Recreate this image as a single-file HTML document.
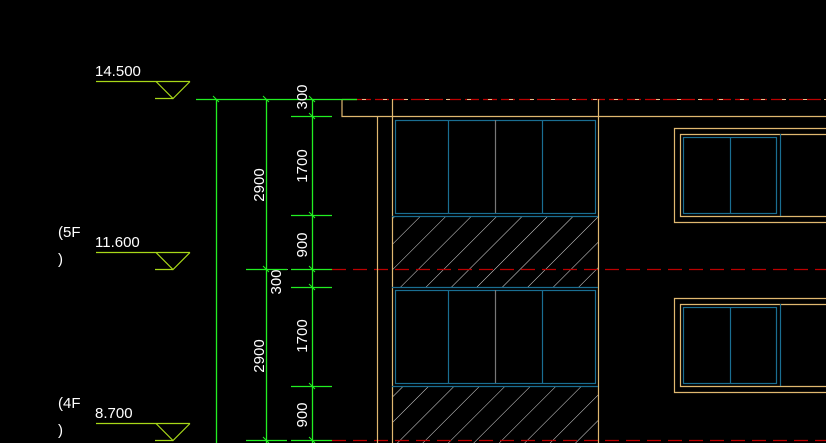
<!DOCTYPE html>
<html><head><meta charset="utf-8"><style>
html,body{margin:0;padding:0;background:#000;width:826px;height:443px;overflow:hidden}
svg{display:block}
text{font-family:"Liberation Sans",sans-serif;fill:#fff;font-size:15px}
</style></head><body>
<svg width="826" height="443" viewBox="0 0 826 443" xmlns="http://www.w3.org/2000/svg">
<defs>
<pattern id="h" patternUnits="userSpaceOnUse" width="18" height="18" patternTransform="rotate(45)">
<line x1="0" y1="0" x2="0" y2="18" stroke="#ddd" stroke-width="1"/>
</pattern>
</defs>
<!-- hatch -->
<rect x="392" y="216" width="206" height="71" fill="url(#h)"/>
<rect x="392" y="386" width="206" height="57" fill="url(#h)"/>
<!-- red dashed -->
<g stroke="#b00" stroke-width="1.2" stroke-dasharray="14 7" fill="none">
<line x1="357" y1="99.5" x2="826" y2="99.5" stroke-dasharray="14 4"/>
<line x1="332" y1="269.5" x2="826" y2="269.5"/>
<line x1="332" y1="440.5" x2="826" y2="440.5"/>
</g>
<line x1="246" y1="269.5" x2="332" y2="269.5" stroke="#888" stroke-dasharray="10 6"/>
<g stroke="#e8c088" stroke-width="1" stroke-dasharray="4 17" fill="none"><line x1="362" y1="99.5" x2="826" y2="99.5"/></g>
<!-- tan structure -->
<g stroke="#e0b870" stroke-width="1.2" fill="none">
<polyline points="342,99 342,116.5 826,116.5"/>
<line x1="342" y1="99.5" x2="357" y2="99.5"/>
<line x1="377.5" y1="116" x2="377.5" y2="443"/>
<line x1="392.5" y1="99" x2="392.5" y2="443"/>
<line x1="598.5" y1="99" x2="598.5" y2="443"/>
<polyline points="826,128.5 674.5,128.5 674.5,222.5 826,222.5"/>
<polyline points="826,134.5 680.5,134.5 680.5,216.5 826,216.5"/>
<polyline points="826,298.5 674.5,298.5 674.5,392.5 826,392.5"/>
<polyline points="826,304.5 680.5,304.5 680.5,386.5 826,386.5"/>
</g>
<!-- blue windows -->
<g stroke="#1a6e92" stroke-width="1.2" fill="none">
<rect x="395.5" y="120.5" width="200" height="93"/>
<line x1="448.5" y1="120" x2="448.5" y2="213"/>
<line x1="542.5" y1="120" x2="542.5" y2="213"/>
<line x1="392" y1="216.5" x2="598" y2="216.5"/>
<line x1="392" y1="287.5" x2="598" y2="287.5"/>
<rect x="395.5" y="290.5" width="200" height="93"/>
<line x1="448.5" y1="290" x2="448.5" y2="383"/>
<line x1="542.5" y1="290" x2="542.5" y2="383"/>
<line x1="392" y1="386.5" x2="598" y2="386.5"/>
<rect x="683.5" y="137.5" width="93" height="76"/>
<line x1="730.5" y1="137" x2="730.5" y2="213"/>
<line x1="780.5" y1="134" x2="780.5" y2="216"/>
<rect x="683.5" y="307.5" width="93" height="76"/>
<line x1="730.5" y1="307" x2="730.5" y2="383"/>
<line x1="780.5" y1="304" x2="780.5" y2="386"/>
</g>
<g stroke="#777" stroke-width="1.2"><line x1="495.5" y1="120" x2="495.5" y2="213"/><line x1="495.5" y1="290" x2="495.5" y2="383"/></g>
<!-- green dims -->
<g stroke="#22ee22" stroke-width="1.3" fill="none">
<line x1="196" y1="99.5" x2="357" y2="99.5"/>
<line x1="216.5" y1="99" x2="216.5" y2="443"/>
<line x1="266.5" y1="99" x2="266.5" y2="443"/>
<line x1="312.5" y1="99" x2="312.5" y2="443"/>
<line x1="291" y1="116.5" x2="332" y2="116.5"/>
<line x1="291" y1="215.5" x2="332" y2="215.5"/>
<line x1="246" y1="269.5" x2="287" y2="269.5"/>
<line x1="291" y1="269.5" x2="332" y2="269.5"/>
<line x1="291" y1="287.5" x2="332" y2="287.5"/>
<line x1="291" y1="386.5" x2="332" y2="386.5"/>
<line x1="246" y1="440.5" x2="287" y2="440.5"/>
<line x1="291" y1="440.5" x2="332" y2="440.5"/>
</g>
<g stroke="#22ee22" stroke-width="1">
<path d="M213 96l6 6M263 96l6 6M309 96l6 6M309 113l6 6M309 212l6 6M263 266l6 6M309 266l6 6M309 284l6 6M309 383l6 6M263 437l6 6M309 437l6 6"/>
</g>
<!-- level markers -->
<g stroke="#a8d818" stroke-width="1.2" fill="none">
<line x1="96" y1="81.5" x2="190" y2="81.5"/><polyline points="156,81.5 173,98.5 190,81.5"/><line x1="155" y1="98.5" x2="173" y2="98.5"/>
<line x1="96" y1="252.5" x2="190" y2="252.5"/><polyline points="156,252.5 173,269.5 190,252.5"/><line x1="155" y1="269.5" x2="173" y2="269.5"/>
<line x1="96" y1="423.5" x2="190" y2="423.5"/><polyline points="156,423.5 173,440.5 190,423.5"/><line x1="155" y1="440.5" x2="173" y2="440.5"/>
</g>
<text x="95" y="76">14.500</text>
<text x="95" y="247">11.600</text>
<text x="95" y="418">8.700</text>
<text x="58" y="237">(5F</text>
<text x="58" y="264">)</text>
<text x="58" y="408">(4F</text>
<text x="58" y="435">)</text>
<g font-size="15">
<text transform="translate(264,185) rotate(-90)" text-anchor="middle">2900</text>
<text transform="translate(264,356) rotate(-90)" text-anchor="middle">2900</text>
<text transform="translate(307,166) rotate(-90)" text-anchor="middle">1700</text>
<text transform="translate(307,336) rotate(-90)" text-anchor="middle">1700</text>
<text transform="translate(307,97) rotate(-90)" text-anchor="middle">300</text>
<text transform="translate(281,282) rotate(-90)" text-anchor="middle">300</text>
<text transform="translate(307,245) rotate(-90)" text-anchor="middle">900</text>
<text transform="translate(307,415) rotate(-90)" text-anchor="middle">900</text>
</g>
</svg>
</body></html>
